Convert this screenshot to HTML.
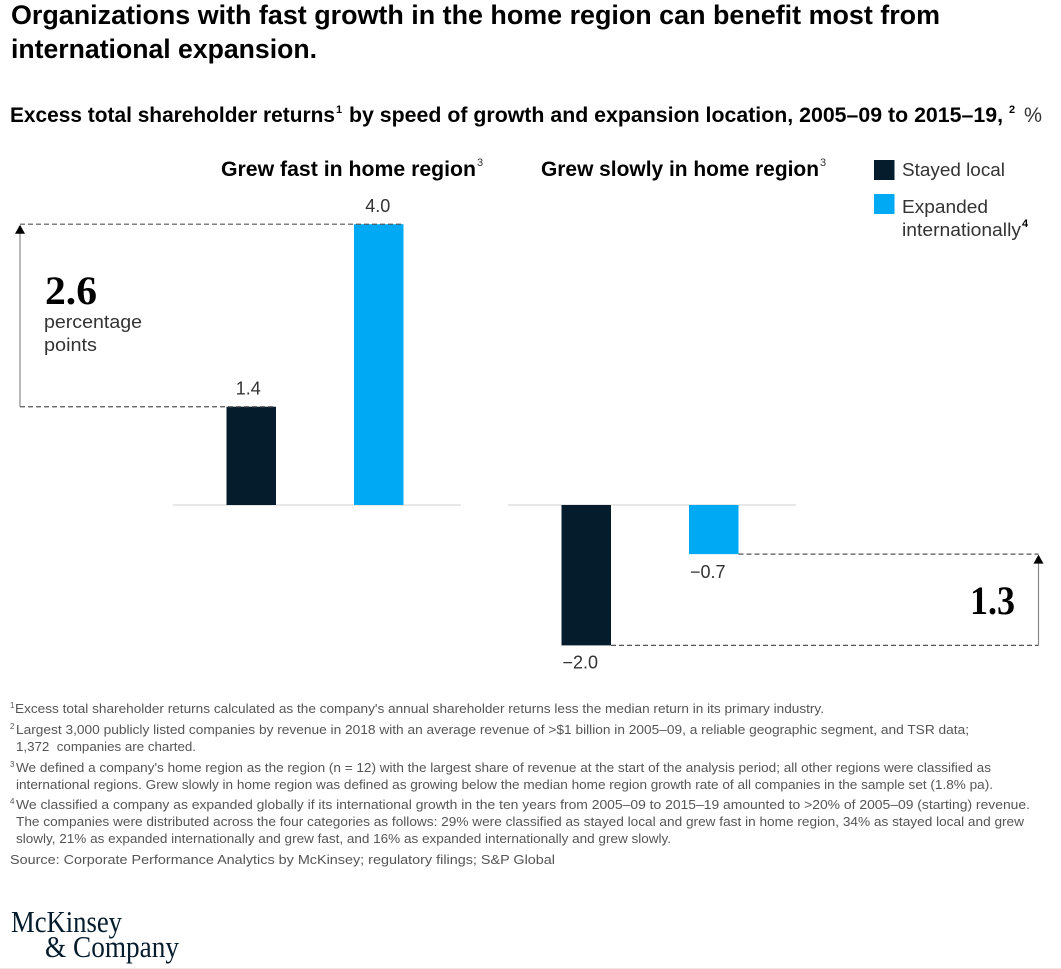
<!DOCTYPE html>
<html lang="en">
<head>
<meta charset="utf-8">
<title>Organizations with fast growth in the home region</title>
<style>
html,body{margin:0;padding:0;background:#fff;}
body{width:1061px;height:969px;overflow:hidden;}
svg{display:block;font-family:"Liberation Sans",sans-serif;}
.fn{font-size:13px;fill:#555;}
.sup{font-size:8px;fill:#555;}
.serif{font-family:"Liberation Serif",serif;}
</style>
</head>
<body>
<svg id="chart" width="1061" height="969" viewBox="0 0 1061 969" xmlns="http://www.w3.org/2000/svg">
<rect width="1061" height="969" fill="#fff"/>

<g font-weight="bold" font-size="26.5" fill="#000">
<text x="11" y="24" textLength="929" lengthAdjust="spacingAndGlyphs">Organizations with fast growth in the home region can benefit most from</text>
<text x="11" y="58" textLength="306" lengthAdjust="spacingAndGlyphs">international expansion.</text>
</g>

<g font-size="21" fill="#000">
<text x="10" y="122" font-weight="bold" textLength="325" lengthAdjust="spacingAndGlyphs">Excess total shareholder returns</text>
<text x="336" y="113" font-size="11" font-weight="bold">1</text>
<text x="349" y="122" font-weight="bold" textLength="654" lengthAdjust="spacingAndGlyphs">by speed of growth and expansion location, 2005–09 to 2015–19,</text>
<text x="1009" y="113" font-size="11" font-weight="bold">2</text>
<text x="1024" y="122" fill="#333" textLength="18" lengthAdjust="spacingAndGlyphs">%</text>
</g>

<g font-size="21" fill="#000">
<text x="221" y="176" font-weight="bold" textLength="255" lengthAdjust="spacingAndGlyphs">Grew fast in home region</text>
<text x="477" y="166" font-size="11" fill="#333">3</text>
<text x="541" y="176" font-weight="bold" textLength="278" lengthAdjust="spacingAndGlyphs">Grew slowly in home region</text>
<text x="820" y="166" font-size="11" fill="#333">3</text>
</g>

<g font-size="18.5" fill="#333">
<rect x="874" y="160" width="20.5" height="20" fill="#051c2c"/>
<text x="902" y="176" textLength="103" lengthAdjust="spacingAndGlyphs">Stayed local</text>
<rect x="874" y="194" width="20.5" height="20" fill="#00a9f4"/>
<text x="902" y="213" textLength="86" lengthAdjust="spacingAndGlyphs">Expanded</text>
<text x="902" y="236" textLength="119" lengthAdjust="spacingAndGlyphs">internationally</text>
<text x="1022" y="227" font-size="11" font-weight="bold" fill="#000">4</text>
</g>

<g id="marks"></g>

<g>
<text class="serif" x="45" y="304" font-size="40" font-weight="bold" fill="#000" textLength="52" lengthAdjust="spacingAndGlyphs">2.6</text>
<text x="44" y="328" font-size="18.5" fill="#333" textLength="98" lengthAdjust="spacingAndGlyphs">percentage</text>
<text x="44" y="351" font-size="18.5" fill="#333" textLength="53" lengthAdjust="spacingAndGlyphs">points</text>
</g>
<text class="serif" x="970" y="614" font-size="40" font-weight="bold" fill="#000" textLength="45" lengthAdjust="spacingAndGlyphs">1.3</text>

<g>
<text class="sup" x="10" y="708">1</text>
<text class="fn" x="15" y="713" textLength="809" lengthAdjust="spacingAndGlyphs">Excess total shareholder returns calculated as the company's annual shareholder returns less the median return in its primary industry.</text>
<text class="sup" x="10" y="729">2</text>
<text class="fn" x="16" y="734" textLength="953" lengthAdjust="spacingAndGlyphs">Largest 3,000 publicly listed companies by revenue in 2018 with an average revenue of &gt;$1 billion in 2005–09, a reliable geographic segment, and TSR data;</text>
<text class="fn" x="16" y="751" textLength="180" lengthAdjust="spacingAndGlyphs">1,372&#160; companies are charted.</text>
<text class="sup" x="10" y="767">3</text>
<text class="fn" x="16" y="772" textLength="975" lengthAdjust="spacingAndGlyphs">We defined a company's home region as the region (n = 12) with the largest share of revenue at the start of the analysis period; all other regions were classified as</text>
<text class="fn" x="16" y="789" textLength="977" lengthAdjust="spacingAndGlyphs">international regions. Grew slowly in home region was defined as growing below the median home region growth rate of all companies in the sample set (1.8% pa).</text>
<text class="sup" x="10" y="804">4</text>
<text class="fn" x="16" y="809" textLength="1014" lengthAdjust="spacingAndGlyphs">We classified a company as expanded globally if its international growth in the ten years from 2005–09 to 2015–19 amounted to &gt;20% of 2005–09 (starting) revenue.</text>
<text class="fn" x="16" y="826" textLength="1008" lengthAdjust="spacingAndGlyphs">The companies were distributed across the four categories as follows: 29% were classified as stayed local and grew fast in home region, 34% as stayed local and grew</text>
<text class="fn" x="16" y="843" textLength="655" lengthAdjust="spacingAndGlyphs">slowly, 21% as expanded internationally and grew fast, and 16% as expanded internationally and grew slowly.</text>
<text class="fn" x="10" y="864" textLength="545" lengthAdjust="spacingAndGlyphs">Source: Corporate Performance Analytics by McKinsey; regulatory filings; S&amp;P Global</text>
</g>

<g class="serif" font-size="31" fill="#051c2c">
<text class="serif" x="11" y="932" textLength="111" lengthAdjust="spacingAndGlyphs">McKinsey</text>
<text class="serif" x="45" y="957" textLength="134" lengthAdjust="spacingAndGlyphs">&amp; Company</text>
</g>
<rect x="0" y="968" width="1061" height="1" fill="#f0e6e8"/>
</svg>

<script>
// Chart data
const panels = ['fast', 'slow'];
const stayedLocal = [1.4, -2.0];
const expandedIntl = [4.0, -0.7];
const stayedLabels = ['1.4', '−2.0'];
const expandedLabels = ['4.0', '−0.7'];

const NS = 'http://www.w3.org/2000/svg';
const marks = document.getElementById('marks');
const zeroY = 505;
const unitPx = 70.2;
const barW = 49.5;
const panelLeft = [173, 508];
const panelW = 288;
const stayedOffset = 53.5;
const expandedOffset = 181;
const NAVY = '#051c2c';
const BLUE = '#00a9f4';

function yScale(v) {
  return zeroY - v * unitPx;
}
function line(x1, y1, x2, y2, stroke, width, dash) {
  const el = document.createElementNS(NS, 'line');
  el.setAttribute('x1', x1);
  el.setAttribute('y1', y1);
  el.setAttribute('x2', x2);
  el.setAttribute('y2', y2);
  el.setAttribute('stroke', stroke);
  el.setAttribute('stroke-width', width);
  if (dash) el.setAttribute('stroke-dasharray', dash);
  marks.appendChild(el);
  return el;
}
function bar(x, v, fill) {
  const el = document.createElementNS(NS, 'rect');
  el.setAttribute('x', x);
  el.setAttribute('y', Math.min(yScale(v), zeroY));
  el.setAttribute('width', barW);
  el.setAttribute('height', Math.abs(v) * unitPx);
  el.setAttribute('fill', fill);
  marks.appendChild(el);
  return el;
}
function label(x, y, txt, anchor) {
  const el = document.createElementNS(NS, 'text');
  el.setAttribute('x', x);
  el.setAttribute('y', y);
  el.setAttribute('text-anchor', anchor);
  el.setAttribute('font-size', '18');
  el.setAttribute('fill', '#333');
  el.textContent = txt;
  marks.appendChild(el);
  return el;
}
function arrowHead(x, tipY) {
  const el = document.createElementNS(NS, 'polygon');
  el.setAttribute('points', (x - 5) + ',' + (tipY + 9) + ' ' + x + ',' + tipY + ' ' + (x + 5) + ',' + (tipY + 9));
  el.setAttribute('fill', '#000');
  marks.appendChild(el);
  return el;
}

panels.forEach(function (panel, i) {
  const sx = panelLeft[i] + stayedOffset;
  const ex = panelLeft[i] + expandedOffset;

  const axis = line(panelLeft[i], zeroY, panelLeft[i] + panelW, zeroY, '#e0e0e0', 1.5);
  
  

  const b1 = bar(sx, stayedLocal[i], NAVY);
  
  

  const b2 = bar(ex, expandedIntl[i], BLUE);
  
  

  const y1 = yScale(stayedLocal[i]);
  const y2 = yScale(expandedIntl[i]);
  const l1 = stayedLocal[i] >= 0
    ? label(sx + barW / 2 - 3, y1 - 12, stayedLabels[i], 'middle')
    : label(sx + 1, y1 + 23, stayedLabels[i], 'start');
  
  

  const l2 = expandedIntl[i] >= 0
    ? label(ex + barW / 2 - 1, y2 - 12, expandedLabels[i], 'middle')
    : label(ex + 1, y2 + 24, expandedLabels[i], 'start');
  
  
});

// Gap connectors, positioned from the data
const dashStyle = '5 3';
const dashColor = '#555';
const arrowColor = '#8a8a8a';

const fastLowY = yScale(stayedLocal[0]);
const fastHighY = yScale(expandedIntl[0]);
const leftX = 20;
const fastBarStart = panelLeft[0] + expandedOffset + barW;
const stayedBarEnd = panelLeft[0] + stayedOffset + barW;

const dashFastTop = line(leftX, fastHighY, fastBarStart, fastHighY, dashColor, 1.2, dashStyle);



const dashFastBottom = line(leftX, fastLowY, stayedBarEnd, fastLowY, dashColor, 1.2, dashStyle);



const arrowFast = line(leftX, fastLowY, leftX, fastHighY + 8, arrowColor, 1.2);



const headFast = arrowHead(leftX, fastHighY + 0.5);



const slowHighY = yScale(expandedIntl[1]);
const slowLowY = yScale(stayedLocal[1]);
const rightX = 1038.5;
const slowExpandedEnd = panelLeft[1] + expandedOffset + barW;
const slowStayedEnd = panelLeft[1] + stayedOffset + barW;

const dashSlowTop = line(slowExpandedEnd, slowHighY, rightX, slowHighY, dashColor, 1.2, dashStyle);



const dashSlowBottom = line(slowStayedEnd, slowLowY, rightX, slowLowY, dashColor, 1.2, dashStyle);



const arrowSlow = line(rightX, slowLowY, rightX, slowHighY + 8, arrowColor, 1.2);



const headSlow = arrowHead(rightX, slowHighY + 0.5);


</script>
</body>
</html>
